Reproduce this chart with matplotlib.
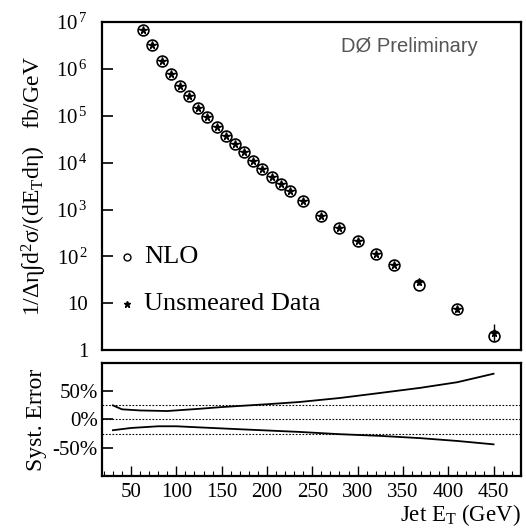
import matplotlib
matplotlib.use("Agg")
import matplotlib.pyplot as plt
from matplotlib.ticker import FixedLocator, FixedFormatter, MultipleLocator, LogLocator, NullFormatter
import numpy as np

plt.rcParams['font.family'] = ['Liberation Serif', 'DejaVu Serif']
plt.rcParams['mathtext.fontset'] = 'custom'
plt.rcParams['mathtext.rm'] = 'Liberation Serif'
plt.rcParams['mathtext.it'] = 'Liberation Serif'
plt.rcParams['mathtext.default'] = 'regular'

# ---- data ----
et = [63, 73, 84, 94, 104, 114, 124, 134, 145, 155, 165, 175, 185, 195, 205,
      215, 225, 240, 260, 280, 300, 320, 340, 368, 410, 450]
nlo = [6.9e6, 3.2e6, 1.5e6, 7.7e5, 4.3e5, 2.6e5, 1.48e5, 9.5e4, 5.7e4, 3.7e4,
       2.47e4, 1.66e4, 1.1e4, 7.4e3, 4.9e3, 3.5e3, 2.5e3, 1.5e3, 730, 405,
       218, 113, 66, 24, 7.5, 2.0]
data = [6.9e6, 3.2e6, 1.5e6, 7.7e5, 4.3e5, 2.6e5, 1.48e5, 9.5e4, 5.7e4, 3.7e4,
        2.47e4, 1.66e4, 1.1e4, 7.4e3, 4.9e3, 3.5e3, 2.5e3, 1.5e3, 730, 405,
        218, 113, 66, 28, 7.6, 2.3]
data_err_lo = [0]*23 + [3, 1.0, 0.7]
data_err_hi = [0]*23 + [4, 1.2, 1.3]

syst_up_et = [30, 40, 60, 90, 126, 150, 200, 236, 280, 325, 369, 410, 450]
syst_up = [25, 18, 16, 15, 19, 22, 27, 31, 38, 47, 56, 66, 81]
syst_dn_et = [30, 50, 80, 100, 126, 180, 236, 280, 325, 369, 410, 450]
syst_dn = [-19, -15, -12, -12, -14, -18, -22, -26, -29, -33, -38, -44]
ref_lines = [25, 0, -25]

log_ticks = [1, 10, 1e2, 1e3, 1e4, 1e5, 1e6, 1e7]
log_labels = ['1', '10', r'$10^{\,2}$', r'$10^{\,3}$', r'$10^{\,4}$',
              r'$10^{\,5}$', r'$10^{\,6}$', r'$10^{\,7}$']
x_ticks = [50, 100, 150, 200, 250, 300, 350, 400, 450]
pct_ticks = [50, 0, -50]
pct_labels = ['50%', '0%', '-50%']

fig = plt.figure(figsize=(5.26, 5.28), dpi=100)
ax1 = fig.add_axes([0.194, 0.337, 0.796, 0.621])
ax2 = fig.add_axes([0.194, 0.0985, 0.796, 0.214])

for ax in (ax1, ax2):
    for s in ax.spines.values():
        s.set_linewidth(1.6)

# ---- top panel ----
ax1.set_yscale('log')
ax1.set_ylim(1, 1e7)
ax1.set_xlim(18, 480)
ax1.plot(et, nlo, linestyle='none', marker='o', markersize=7.8,
         markerfacecolor='none', markeredgecolor='black', markeredgewidth=1.2)
ax1.errorbar(et, data, yerr=[data_err_lo, data_err_hi], fmt='*', color='black',
             markersize=5.5, elinewidth=1.0, capsize=0)
ax1.yaxis.set_major_locator(FixedLocator(log_ticks))
ax1.yaxis.set_major_formatter(FixedFormatter(log_labels))
ax1.yaxis.set_minor_locator(LogLocator(base=10, subs=np.arange(2, 10)))
ax1.yaxis.set_minor_formatter(NullFormatter())
ax1.tick_params(axis='y', which='major', direction='in', length=8, width=1.2,
                labelsize=15, pad=10)
ax1.tick_params(axis='y', which='minor', direction='in', length=4, width=0.8)
ax1.tick_params(axis='x', which='both', length=0, labelbottom=False)
ax1.set_ylabel(r'1/$\Delta\eta\int$d$^2\sigma$/(dE$_T$d$\eta$)   fb/GeV',
               fontsize=17, labelpad=6)

ax1.text(0.897, 0.955, 'DØ Preliminary', transform=ax1.transAxes,
         ha='right', va='top', fontsize=14.5, color='#555555',
         family=['Liberation Sans', 'DejaVu Sans'], fontweight='light')

ax1.plot([0.06], [0.284], transform=ax1.transAxes, marker='o', markersize=5,
         markerfacecolor='none', markeredgecolor='black', markeredgewidth=1.0)
ax1.text(0.10, 0.284, 'NLO', transform=ax1.transAxes, ha='left',
         va='center', fontsize=19)
ax1.plot([0.06], [0.14], transform=ax1.transAxes, marker='*', markersize=5,
         color='black')
ax1.text(0.10, 0.14, 'Unsmeared Data', transform=ax1.transAxes, ha='left',
         va='center', fontsize=19)

# ---- bottom panel ----
ax2.set_xlim(18, 480)
ax2.set_ylim(-100, 100)
for v in ref_lines:
    ax2.axhline(v, color='black', linestyle=(0, (1.5, 1.5)), linewidth=0.8)
ax2.plot(syst_up_et, syst_up, color='black', linewidth=1.3)
ax2.plot(syst_dn_et, syst_dn, color='black', linewidth=1.3)
ax2.xaxis.set_major_locator(FixedLocator(x_ticks))
ax2.xaxis.set_minor_locator(MultipleLocator(10))
ax2.yaxis.set_major_locator(FixedLocator(pct_ticks))
ax2.yaxis.set_major_formatter(FixedFormatter(pct_labels))
ax2.tick_params(axis='x', which='major', direction='in', length=7, width=1.0,
                labelsize=15, pad=5, top=False)
ax2.tick_params(axis='x', which='minor', direction='in', length=3.5, width=0.8)
ax2.tick_params(axis='y', which='major', direction='in', length=8, width=1.2,
                labelsize=15, pad=3)
ax2.set_ylabel('Syst. Error', fontsize=17, labelpad=4)
ax2.set_xlabel(r'Jet E$_T$ (GeV)', fontsize=16.5, loc='right', labelpad=0)

fig.savefig('out.png', dpi=100)
